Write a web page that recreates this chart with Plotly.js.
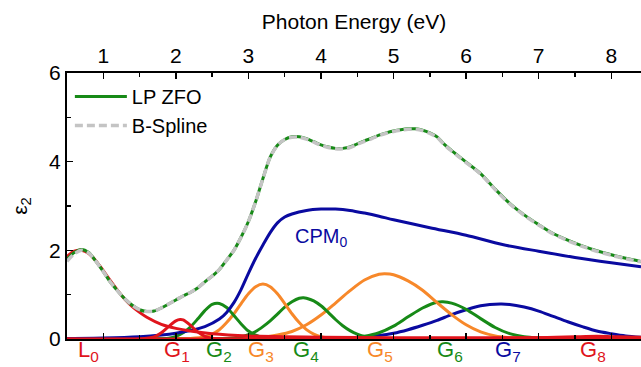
<!DOCTYPE html>
<html><head><meta charset="utf-8">
<script src="https://cdn.plot.ly/plotly-3.0.1.min.js"></script>
<style>html,body{margin:0;padding:0;background:#fff}#c{width:641px;height:367px}</style>
</head><body><div id="c"></div>
<script>
// Total LP ZFO and B-spline (eV, eps2)
const totalE = [0.5,0.6,0.7,0.8,0.9,1.0,1.1,1.2,1.3,1.4,1.5,1.6,1.7,1.8,1.9,2.0,2.1,2.2,2.3,2.4,2.5,2.6,2.7,2.8,2.9,3.0,3.1,3.2,3.3,3.4,3.5,3.6,3.7,3.8,3.9,4.0,4.1,4.2,4.3,4.4,4.5,4.6,4.7,4.8,4.9,5.0,5.1,5.2,5.3,5.4,5.5,5.6,5.7,5.8,5.9,6.0,6.2,6.4,6.6,6.8,7.0,7.2,7.4,7.6,7.8,8.0,8.2,8.41];
const totalV = [1.80,1.95,2.02,1.95,1.75,1.52,1.28,1.08,0.90,0.76,0.66,0.62,0.63,0.70,0.79,0.88,0.97,1.05,1.15,1.29,1.42,1.57,1.78,2.00,2.30,2.65,3.10,3.62,4.10,4.37,4.50,4.56,4.56,4.52,4.45,4.38,4.33,4.30,4.30,4.33,4.40,4.47,4.53,4.60,4.65,4.69,4.72,4.74,4.74,4.71,4.65,4.56,4.39,4.25,4.12,3.99,3.73,3.38,3.06,2.80,2.58,2.38,2.23,2.10,1.99,1.90,1.82,1.75];
const splineV = [1.75,1.92,2.00,1.94,1.75,1.52,1.28,1.08,0.90,0.76,0.66,0.62,0.63,0.70,0.79,0.88,0.97,1.05,1.15,1.29,1.42,1.57,1.78,2.00,2.30,2.65,3.10,3.62,4.10,4.37,4.50,4.55,4.55,4.51,4.44,4.37,4.32,4.29,4.29,4.32,4.39,4.46,4.52,4.59,4.64,4.68,4.71,4.73,4.73,4.70,4.64,4.55,4.38,4.24,4.11,3.98,3.72,3.37,3.05,2.79,2.57,2.37,2.22,2.09,1.98,1.89,1.81,1.74];

// Lorentz oscillator L0
const l0E = [0.5,0.6,0.7,0.8,0.9,1.0,1.1,1.2,1.3,1.4,1.5,1.6,1.8,2.0,2.2,2.5,3.0,3.5,4.0,5.0,6.0,7.0,8.0,8.41];
const l0V = [1.86,1.98,2.00,1.93,1.76,1.54,1.31,1.09,0.89,0.73,0.60,0.49,0.33,0.24,0.18,0.12,0.07,0.05,0.04,0.03,0.03,0.03,0.03,0.03];

// Critical point model CPM0
const cpmE = [0.5,1.0,1.5,1.8,2.0,2.2,2.4,2.6,2.7,2.8,2.9,3.0,3.1,3.2,3.3,3.4,3.5,3.6,3.8,4.0,4.2,4.4,4.6,4.8,5.0,5.5,6.0,6.5,7.0,7.5,8.0,8.41];
const cpmV = [0.01,0.02,0.05,0.09,0.13,0.19,0.28,0.45,0.60,0.82,1.12,1.48,1.82,2.12,2.40,2.62,2.75,2.82,2.90,2.93,2.93,2.90,2.84,2.77,2.69,2.51,2.34,2.13,1.98,1.84,1.72,1.63];

// Gaussian oscillators
const g1E = [0.5,1.5,1.7,1.8,1.9,2.0,2.06,2.1,2.2,2.3,2.4,2.5,2.7,8.41];
const g1V = [0,0.002,0.047,0.14,0.28,0.41,0.44,0.43,0.31,0.16,0.06,0.015,0,0];
const g2E = [0.5,1.7,1.8,1.9,2.0,2.1,2.2,2.3,2.4,2.5,2.6,2.7,2.8,2.9,3.0,3.1,3.2,3.3,3.4,3.6,8.41];
const g2V = [0,0.002,0.007,0.02,0.06,0.14,0.27,0.45,0.64,0.78,0.80,0.71,0.53,0.34,0.18,0.085,0.03,0.01,0.003,0,0];
const g3E = [0.5,2.0,2.2,2.4,2.5,2.6,2.7,2.8,2.9,3.0,3.1,3.2,3.3,3.4,3.5,3.6,3.7,3.8,3.9,4.0,4.2,4.4,8.41];
const g3V = [0,0.001,0.01,0.05,0.11,0.21,0.37,0.57,0.80,1.02,1.18,1.24,1.18,1.02,0.80,0.57,0.37,0.21,0.11,0.05,0.01,0,0];
const g4E = [0.5,2.6,2.8,2.9,3.0,3.1,3.2,3.3,3.4,3.5,3.6,3.7,3.76,3.8,3.9,4.0,4.1,4.2,4.3,4.4,4.5,4.6,4.7,4.8,5.0,8.41];
const g4V = [0,0.005,0.025,0.05,0.10,0.17,0.28,0.41,0.56,0.72,0.84,0.92,0.93,0.92,0.86,0.75,0.60,0.44,0.30,0.19,0.11,0.06,0.03,0.015,0.003,0];
const g5E = [0.5,2.8,3.0,3.2,3.4,3.6,3.8,4.0,4.2,4.4,4.6,4.8,4.88,5.0,5.2,5.4,5.6,5.8,6.0,6.2,6.4,6.6,6.8,7.0,8.41];
const g5V = [0,0.005,0.015,0.04,0.09,0.17,0.32,0.54,0.81,1.09,1.33,1.46,1.47,1.45,1.31,1.10,0.82,0.55,0.32,0.16,0.07,0.03,0.01,0.003,0];
const g6E = [0.5,4.0,4.2,4.4,4.6,4.8,5.0,5.2,5.4,5.6,5.68,5.8,6.0,6.2,6.4,6.6,6.8,7.0,7.2,7.5,8.41];
const g6V = [0,0.001,0.006,0.02,0.06,0.14,0.29,0.50,0.70,0.83,0.84,0.81,0.67,0.46,0.26,0.12,0.05,0.02,0.005,0,0];
const g7E = [0.5,3.6,4.0,4.4,4.8,5.0,5.2,5.4,5.6,5.8,6.0,6.2,6.47,6.6,6.8,7.0,7.2,7.4,7.6,7.8,8.0,8.2,8.41];
const g7V = [0,0.002,0.01,0.03,0.08,0.13,0.21,0.31,0.42,0.55,0.66,0.75,0.79,0.78,0.72,0.63,0.51,0.39,0.28,0.18,0.12,0.07,0.04];
const g8E = [0.5,6.0,6.5,7.0,7.5,7.8,8.1,8.41];
const g8V = [0,0.005,0.015,0.03,0.05,0.06,0.05,0.04];

// Bottom labels
const labelText = ["L<sub>0</sub>","G<sub>1</sub>","G<sub>2</sub>","G<sub>3</sub>","G<sub>4</sub>","G<sub>5</sub>","G<sub>6</sub>","G<sub>7</sub>","G<sub>8</sub>"];
const labelE = [0.79,2.01,2.60,3.17,3.80,4.82,5.78,6.58,7.75];

const RED = '#e0141c', GREEN = '#178a17', ORANGE = '#f7882a', BLUE = '#0a0aa0';
const labelColor = [RED,RED,GREEN,ORANGE,GREEN,ORANGE,GREEN,BLUE,RED];

function comp(x,y,c){return {x:x,y:y,type:'scatter',mode:'lines',line:{color:c,width:3,shape:'spline',smoothing:0.8},showlegend:false,hoverinfo:'skip'};}

const traces = [
  comp(g7E,g7V,BLUE), comp(g6E,g6V,GREEN), comp(g5E,g5V,ORANGE), comp(g4E,g4V,GREEN),
  comp(g3E,g3V,ORANGE), comp(g2E,g2V,GREEN), comp(cpmE,cpmV,BLUE), comp(g1E,g1V,RED),
  comp(g8E,g8V,RED), comp(l0E,l0V,RED),
  {x:totalE,y:totalV,type:'scatter',mode:'lines',name:'LP ZFO',line:{color:GREEN,width:3,shape:'spline',smoothing:0.8}},
  {x:totalE,y:splineV,type:'scatter',mode:'lines',name:'B-Spline',line:{color:'#c4c4c4',width:3.5,dash:'8px,4px',shape:'spline',smoothing:0.8}}
];

const FONT = 'Liberation Sans, Arial, sans-serif';
const ann = labelText.map((t,i)=>({x:labelE[i],xref:'x',y:0.01,yref:'paper',yanchor:'top',text:t,showarrow:false,borderpad:0,font:{family:FONT,size:22,color:labelColor[i]}}));
ann.push({x:4.0,xref:'x',y:2.3,yref:'y',text:'CPM<sub>0</sub>',showarrow:false,font:{family:FONT,size:20,color:BLUE}});

const layout = {
  width:641,height:367,
  margin:{l:67,r:0,t:73,b:28,pad:0},
  paper_bgcolor:'#fff',plot_bgcolor:'#fff',
  font:{family:FONT,size:20,color:'#000'},
  showlegend:true,
  legend:{x:0.005,y:0.985,xanchor:'left',yanchor:'top',bgcolor:'rgba(0,0,0,0)',font:{family:FONT,size:20},tracegroupgap:0,itemwidth:52},
  xaxis:{side:'top',range:[0.5,8.41],dtick:1,tick0:0,ticks:'inside',ticklen:6,tickwidth:1.5,tickcolor:'#000',
    showline:true,linecolor:'#000',linewidth:2,mirror:'ticks',showgrid:false,zeroline:false,
    minor:{dtick:0.5,tick0:0,ticks:'inside',ticklen:4,tickcolor:'#000',tickwidth:1.5},
    tickfont:{family:FONT,size:21},
    title:{text:'Photon Energy (eV)',font:{family:FONT,size:21},standoff:8}},
  yaxis:{range:[0,6],dtick:2,ticks:'inside',ticklen:6,tickwidth:1.5,tickcolor:'#000',
    showline:true,linecolor:'#000',linewidth:2,showgrid:false,zeroline:false,
    minor:{dtick:1,ticks:'inside',ticklen:4,tickcolor:'#000',tickwidth:1.5},
    tickfont:{family:FONT,size:21},
    title:{text:'ε<sub>2</sub>',font:{family:FONT,size:21},standoff:16}},
  annotations:ann
};
Plotly.newPlot('c',traces,layout,{displayModeBar:false,staticPlot:true});
</script></body></html>
